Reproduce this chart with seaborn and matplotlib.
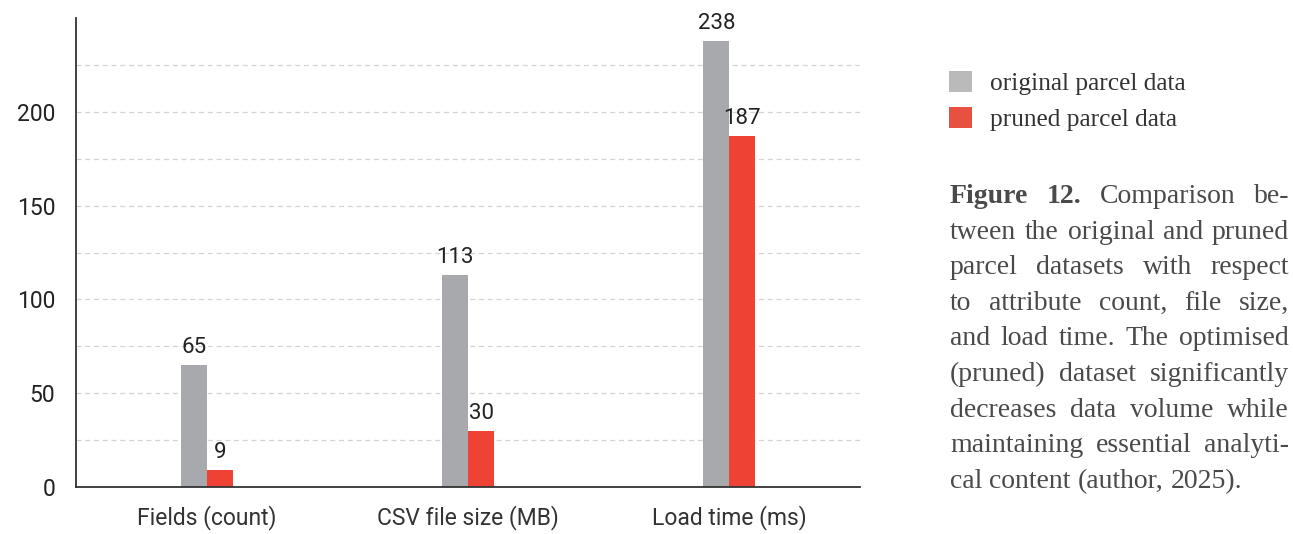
import matplotlib
matplotlib.use("Agg")
import matplotlib.pyplot as plt
from matplotlib.font_manager import FontProperties
from matplotlib.patches import Patch
import seaborn as sns
import pandas as pd

# ---- data ----
metrics = ["Fields (count)", "CSV file size (MB)", "Load time (ms)"]
original = [65, 113, 238]
pruned = [9, 30, 187]
series_names = ["original parcel data", "pruned parcel data"]
colors = ["#a8a9ac", "#ee4334"]
legend_colors = ["#bababa", "#e8503f"]

caption_lines = [
    [("Figure", True), ("12.", True), ("Comparison", False), ("be-", False)],
    "tween the original and pruned",
    "parcel datasets with respect",
    "to attribute count, file size,",
    "and load time. The optimised",
    "(pruned) dataset significantly",
    "decreases data volume while",
    "maintaining essential analyti-",
    "cal content (author, 2025).",
]

df = pd.DataFrame({
    "metric": metrics * 2,
    "dataset": [series_names[0]] * 3 + [series_names[1]] * 3,
    "value": original + pruned,
})

W, H = 1293, 534
sns.set_theme(style="white")
plt.rcParams["font.family"] = ["Roboto", "DejaVu Sans"]

fig = plt.figure(figsize=(W / 100, H / 100), dpi=100)
ax = fig.add_axes([76 / W, (H - 487) / H, (860 - 76) / W, (487 - 18) / H])

sns.barplot(data=df, x="metric", y="value", hue="dataset", order=metrics,
            hue_order=series_names, palette=colors, width=0.2,
            saturation=1, linewidth=0, ax=ax, legend=False)

for cont in ax.containers:
    ax.bar_label(cont, fmt="%d", padding=5, fontsize=16, color="#222222")

ax.set_ylim(0, 250)
ax.set_xlim(-0.5, 2.5)
ax.set_yticks([0, 50, 100, 150, 200])
ax.set_yticks([25, 75, 125, 175, 225], minor=True)
ax.grid(axis="y", which="both", linestyle=(0, (4, 3)), color="#d4d4d4", linewidth=0.9)
ax.set_axisbelow(True)
ax.set_xlabel("")
ax.set_ylabel("")
for s in ["top", "right"]:
    ax.spines[s].set_visible(False)
for s in ["left", "bottom"]:
    ax.spines[s].set_color("#333333")
    ax.spines[s].set_linewidth(1.3)
ax.tick_params(axis="y", which="both", length=0, pad=15, labelsize=16.5, labelcolor="#222222")
ax.tick_params(axis="x", length=0, pad=13, labelsize=16.5, labelcolor="#333333")

serif_family = ["Liberation Serif", "DejaVu Serif"]
legend_fp = FontProperties(family=serif_family, size=18.3)
serif = FontProperties(family=serif_family, size=20)
serif_bold = FontProperties(family=serif_family, size=20, weight="bold")

handles = [Patch(facecolor=c, edgecolor="none") for c in legend_colors]
ax.legend(handles, series_names, loc="upper left",
          bbox_to_anchor=(949 / W, 1 - 71 / H),
          bbox_transform=fig.transFigure, frameon=False, prop=legend_fp,
          handlelength=0.9, handleheight=0.9, handletextpad=0.7,
          labelspacing=0.46, borderaxespad=0, borderpad=0,
          labelcolor="#333333")

# ---- justified caption ----
fig.canvas.draw()
renderer = fig.canvas.get_renderer()


def text_width(word, fp):
    t = fig.text(0, 0, word, fontproperties=fp)
    w = t.get_window_extent(renderer).width
    t.remove()
    return w


x0, x1 = 950, 1289
baseline_first = 203
line_step = 35.6
cap_color = "#4a4a4a"
space_w = text_width("a b", serif) - text_width("ab", serif)

for i, line in enumerate(caption_lines):
    if isinstance(line, str):
        words = [(w, False) for w in line.split()]
    else:
        words = line
    fps = [serif_bold if b else serif for _, b in words]
    widths = [text_width(w, fp) for (w, _), fp in zip(words, fps)]
    last = i == len(caption_lines) - 1
    if last or len(words) == 1:
        gap = space_w
    else:
        gap = (x1 - x0 - sum(widths)) / (len(words) - 1)
    x = x0
    y = baseline_first + i * line_step
    for (w, _), fp, wd in zip(words, fps, widths):
        fig.text(x / W, 1 - y / H, w, fontproperties=fp, color=cap_color,
                 ha="left", va="baseline")
        x += wd + gap

fig.savefig("out.png", dpi=100)
